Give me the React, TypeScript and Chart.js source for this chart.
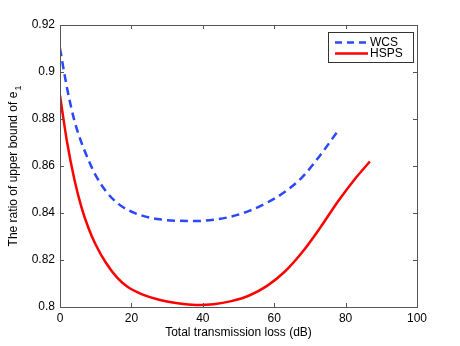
import React, { useEffect, useRef } from "react";
import { Chart, registerables } from "chart.js";

Chart.register(...registerables);

const xTicks = [0, 20, 40, 60, 80, 100];
const yTicks = [0.8, 0.82, 0.84, 0.86, 0.88, 0.9, 0.92];

const wcsX = [0, 2, 4, 6, 8, 10, 13, 16, 19, 23, 28, 33, 38, 43, 48, 53, 58, 63, 68, 73, 78];
const wcsY = [0.91, 0.893, 0.8795, 0.87, 0.8625, 0.856, 0.849, 0.8443, 0.8413, 0.8389, 0.8373, 0.8367, 0.8366, 0.8371, 0.8385, 0.8409, 0.8444, 0.849, 0.8555, 0.8648, 0.8753];

const hspsX = [0, 2, 4, 6, 8, 10, 13, 16, 19, 23, 28, 33, 38, 43, 48, 53, 58, 63, 68, 73, 78, 83, 86.8];
const hspsY = [0.89, 0.87, 0.8545, 0.8425, 0.8335, 0.8265, 0.8185, 0.8125, 0.8085, 0.8054, 0.803, 0.8016, 0.8009, 0.8012, 0.8025, 0.8049, 0.809, 0.8151, 0.8236, 0.834, 0.8452, 0.8552, 0.8619];

const seriesNames = ["WCS", "HSPS"];
const xTitle = "Total transmission loss (dB)";
const yTitleMain = "The ratio of upper bound of e";
const yTitleSub = "1";

const FONT = "Liberation Sans, Arial, Helvetica, sans-serif";
const BLUE = "#2a48ff";
const RED = "#ff0000";
const AXIS = "#555555";

const decorPlugin = {
  id: "decor",
  afterDraw(chart: any) {
    const { ctx, chartArea } = chart;
    const { left, top, right, bottom } = chartArea;
    const xs = chart.scales.x;
    const ys = chart.scales.y;
    ctx.save();
    ctx.strokeStyle = AXIS;
    ctx.lineWidth = 1;
    ctx.strokeRect(Math.round(left) + 0.5, Math.round(top) + 0.5, Math.round(right - left), Math.round(bottom - top));
    ctx.beginPath();
    xTicks.forEach((v) => {
      const px = Math.round(xs.getPixelForValue(v)) + 0.5;
      ctx.moveTo(px, bottom);
      ctx.lineTo(px, bottom - 4);
      ctx.moveTo(px, top);
      ctx.lineTo(px, top + 4);
    });
    yTicks.forEach((v) => {
      const py = Math.round(ys.getPixelForValue(v)) + 0.5;
      ctx.moveTo(left, py);
      ctx.lineTo(left + 4, py);
      ctx.moveTo(right, py);
      ctx.lineTo(right - 4, py);
    });
    ctx.stroke();

    ctx.fillStyle = "#000";
    ctx.font = "12px " + FONT;
    ctx.textAlign = "center";
    ctx.textBaseline = "middle";
    ctx.fillText(xTitle, (left + right) / 2, 333);

    ctx.save();
    ctx.translate(14, (top + bottom) / 2);
    ctx.rotate(-Math.PI / 2);
    const wMain = ctx.measureText(yTitleMain).width;
    ctx.font = "9px " + FONT;
    const wSub = ctx.measureText(yTitleSub).width;
    const total = wMain + wSub + 1;
    ctx.textAlign = "left";
    ctx.font = "12px " + FONT;
    ctx.fillText(yTitleMain, -total / 2, 0);
    ctx.font = "9px " + FONT;
    ctx.fillText(yTitleSub, -total / 2 + wMain + 1, 5);
    ctx.restore();

    const lx = 328.5, ly = 32.5, lw = 85, lh = 30;
    ctx.fillStyle = "#fff";
    ctx.fillRect(lx, ly, lw, lh);
    ctx.strokeStyle = "#333";
    ctx.lineWidth = 1;
    ctx.strokeRect(lx, ly, lw, lh);
    ctx.lineWidth = 2.5;
    ctx.strokeStyle = BLUE;
    ctx.setLineDash([7, 5]);
    ctx.beginPath();
    ctx.moveTo(335, 42.5);
    ctx.lineTo(368, 42.5);
    ctx.stroke();
    ctx.setLineDash([]);
    ctx.strokeStyle = RED;
    ctx.beginPath();
    ctx.moveTo(335, 53.5);
    ctx.lineTo(368, 53.5);
    ctx.stroke();
    ctx.fillStyle = "#000";
    ctx.font = "12px " + FONT;
    ctx.textAlign = "left";
    ctx.textBaseline = "middle";
    ctx.fillText(seriesNames[0], 370, 42.5);
    ctx.fillText(seriesNames[1], 370, 53.5);
    ctx.restore();
  },
};

export default function App() {
  const ref = useRef<HTMLCanvasElement>(null);
  useEffect(() => {
    const canvas = ref.current;
    if (!canvas) return;
    const chart = new Chart(canvas, {
      type: "scatter",
      data: {
        datasets: [
          {
            label: seriesNames[0],
            data: wcsX.map((x, i) => ({ x, y: wcsY[i] })),
            showLine: true,
            borderColor: BLUE,
            borderWidth: 2.5,
            borderDash: [8, 5],
            pointRadius: 0,
            cubicInterpolationMode: "monotone",
          },
          {
            label: seriesNames[1],
            data: hspsX.map((x, i) => ({ x, y: hspsY[i] })),
            showLine: true,
            borderColor: RED,
            borderWidth: 2.5,
            pointRadius: 0,
            cubicInterpolationMode: "monotone",
          },
        ],
      },
      options: {
        responsive: false,
        animation: false,
        layout: { padding: { left: 0, top: 25, right: 43, bottom: 0 } },
        plugins: { legend: { display: false }, tooltip: { enabled: false } },
        scales: {
          x: {
            type: "linear",
            min: 0,
            max: 100,
            grid: { display: false, drawTicks: false },
            border: { display: false },
            afterFit: (s: any) => {
              s.height = 39;
            },
            afterBuildTicks: (s: any) => {
              s.ticks = xTicks.map((v) => ({ value: v }));
            },
            ticks: {
              padding: 4,
              color: "#000",
              font: { family: FONT, size: 12 },
              maxRotation: 0,
              callback: (v: any) => String(v),
            },
          },
          y: {
            type: "linear",
            min: 0.8,
            max: 0.92,
            grid: { display: false, drawTicks: false },
            border: { display: false },
            afterFit: (s: any) => {
              s.width = 60;
            },
            afterBuildTicks: (s: any) => {
              s.ticks = yTicks.map((v) => ({ value: v }));
            },
            ticks: {
              padding: 5,
              color: "#000",
              font: { family: FONT, size: 12 },
              callback: (v: any) => String(parseFloat(Number(v).toFixed(2))),
            },
          },
        },
      },
      plugins: [decorPlugin],
    } as any);
    return () => chart.destroy();
  }, []);
  return (
    <div style={{ position: "absolute", left: 0, top: 0, width: 460, height: 346, background: "#fff" }}>
      <canvas ref={ref} width={460} height={346} style={{ display: "block" }} />
    </div>
  );
}
